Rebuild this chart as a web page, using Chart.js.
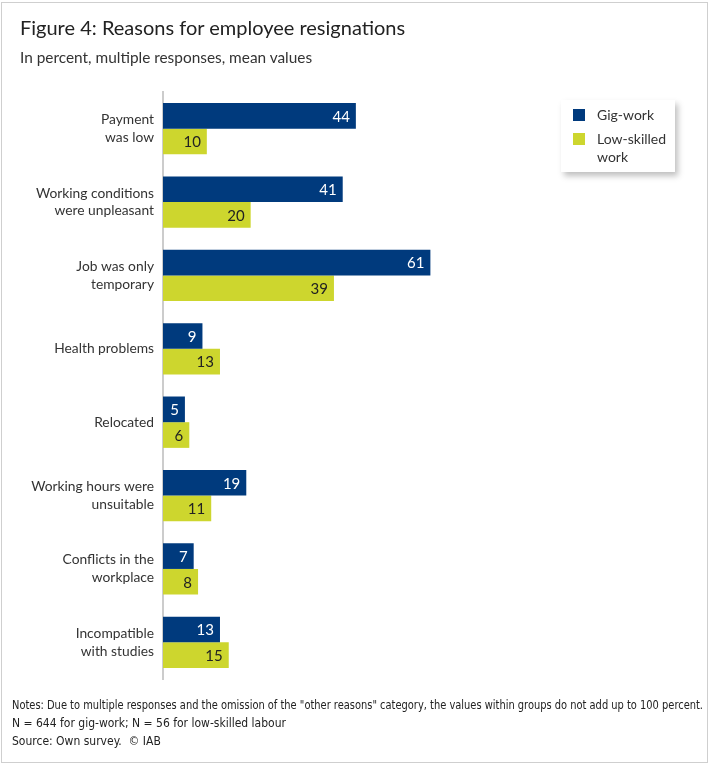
<!DOCTYPE html>
<html>
<head>
<meta charset="utf-8">
<script src="https://cdn.jsdelivr.net/npm/chart.js@4.4.1/dist/chart.umd.min.js"></script>
<style>
  html, body { margin: 0; padding: 0; background: #fff; }
  body { width: 710px; height: 765px; position: relative; overflow: hidden; font-family: Lato, "Open Sans", sans-serif; color: #222; }
  .frame { position: absolute; left: 1px; top: 2px; width: 705px; height: 759px; border: 1px solid #cfcfcf; }
  .title { position: absolute; left: 20px; top: 15px; font-size: 20px; color: #222; }
  .subtitle { position: absolute; left: 20px; top: 48px; font-size: 15.4px; color: #333; }
  #wrap { position: absolute; left: 0; top: 0; width: 710px; height: 765px; }
  .legend { position: absolute; left: 561px; top: 100px; width: 114px; padding: 6px 0 6px 0; background: #fff;
            box-shadow: 3px 4px 6px rgba(0,0,0,0.25); font-size: 14px; color: #333; }
  .legend .item { position: relative; padding-left: 36px; line-height: 18px; margin-bottom: 6px; }
  .legend .item:last-child { margin-bottom: 0; }
  .legend .sw { position: absolute; left: 12px; top: 3px; width: 12px; height: 12px; }
  .notes { position: absolute; left: 12px; top: 696px; font-family: "Liberation Sans Narrow", "DejaVu Sans Condensed", sans-serif; font-size: 12px; color: #222; line-height: 18px; white-space: nowrap; }
</style>
</head>
<body>
<div class="frame"></div>
<div id="wrap"><canvas id="chart" width="710" height="765"></canvas></div>
<div class="title">Figure 4: Reasons for employee resignations</div>
<div class="subtitle">In percent, multiple responses, mean values</div>
<div class="legend" id="legend"></div>
<div class="notes">
  <div id="n1">Notes: Due to multiple responses and the omission of the "other reasons" category, the values within groups do not add up to 100 percent.</div>
  <div>N = 644 for gig-work; N = 56 for low-skilled labour</div>
  <div>Source: Own survey.&nbsp; © IAB</div>
</div>
<script>
// ---- data ----
const reasons = [
  ['Payment', 'was low'],
  ['Working conditions', 'were unpleasant'],
  ['Job was only', 'temporary'],
  ['Health problems'],
  ['Relocated'],
  ['Working hours were', 'unsuitable'],
  ['Conflicts in the', 'workplace'],
  ['Incompatible', 'with studies']
];
const gigWork = [44, 41, 61, 9, 5, 19, 7, 13];
const lowSkilled = [10, 20, 39, 13, 6, 11, 8, 15];
const seriesNames = ['Gig-work', 'Low-skilled work'];
const seriesColors = ['#003a7d', '#cdd62e'];
const labelColors = ['#ffffff', '#222222'];

// legend (HTML box with shadow)
const legendEl = document.getElementById('legend');
seriesNames.forEach((n, i) => {
  const d = document.createElement('div');
  d.className = 'item';
  d.innerHTML = `<span class="sw" style="background:${seriesColors[i]}"></span>${n === 'Low-skilled work' ? 'Low-skilled<br>work' : n}`;
  legendEl.appendChild(d);
});

// fit first notes line to the width in the picture
const n1 = document.getElementById('n1');
const w = n1.getBoundingClientRect().width;
n1.style.transformOrigin = 'left top';
n1.style.transform = `scaleX(${691 / w})`;

/* value labels at the bar end */
const barLabels = {
  id: 'barLabels',
  afterDatasetsDraw(chart) {
    const ctx = chart.ctx;
    ctx.save();
    ctx.font = '15px Lato, "Open Sans", sans-serif';
    ctx.textAlign = 'right';
    ctx.textBaseline = 'middle';
    chart.data.datasets.forEach((ds, i) => {
      chart.getDatasetMeta(i).data.forEach((bar, j) => {
        ctx.fillStyle = labelColors[i];
        ctx.fillText(ds.data[j], bar.x - 6, bar.y + 1);
      });
    });
    ctx.restore();
  }
};

new Chart(document.getElementById('chart'), {
  type: 'bar',
  data: {
    labels: reasons,
    datasets: [
      { label: seriesNames[0], data: gigWork, backgroundColor: seriesColors[0] },
      { label: seriesNames[1], data: lowSkilled, backgroundColor: seriesColors[1] }
    ]
  },
  options: {
    indexAxis: 'y',
    responsive: false,
    animation: false,
    layout: { padding: { left: 0, top: 92, bottom: 86, right: 21 } },
    datasets: { bar: { categoryPercentage: 0.7, barPercentage: 1.0 } },
    plugins: { legend: { display: false }, tooltip: { enabled: false } },
    scales: {
      x: { display: false, min: 0, max: 120 },
      y: {
        afterFit(scale) { scale.width = 163; },
        grid: { display: false, drawTicks: false },
        border: { display: true, color: '#cccccc', width: 2 },
        ticks: {
          padding: 9,
          color: '#333',
          font: { family: 'Lato, "Open Sans", sans-serif', size: 13.8, lineHeight: 1.3 }
        }
      }
    }
  },
  plugins: [barLabels]
});
</script>
</body>
</html>
